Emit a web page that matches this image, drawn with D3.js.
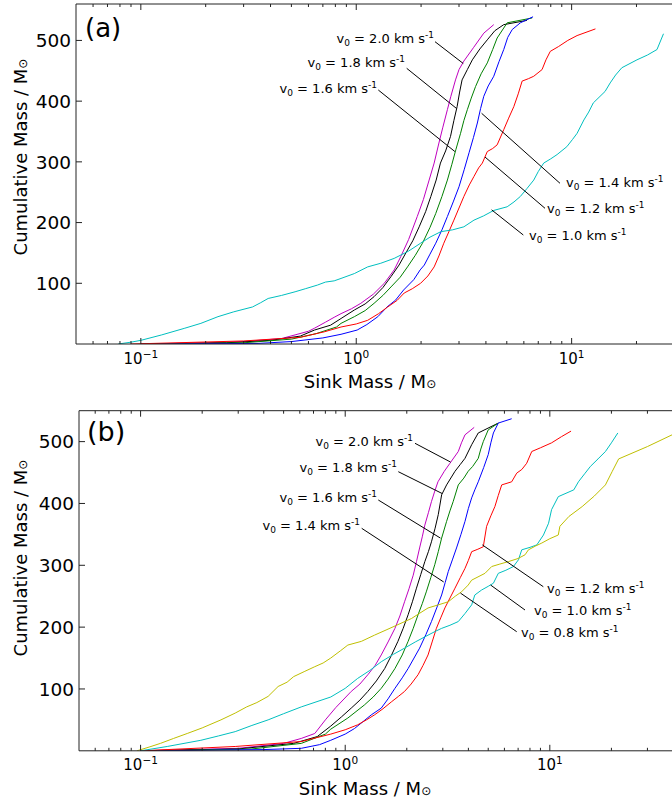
<!DOCTYPE html>
<html><head><meta charset="utf-8">
<script src="https://cdn.jsdelivr.net/npm/d3@7"></script>
<style>body{margin:0;background:#fff}svg{display:block}text{font-family:"DejaVu Sans",sans-serif;fill:#000}</style>
</head><body>
<svg id="c" width="672" height="803"></svg>
<script>
// ---------------- data ----------------
const xMajorTicks = [0.1, 1, 10];
const xTickExponents = ["\u22121", "0", "1"];
const yTicks = [100, 200, 300, 400, 500];
const yTickLabels = ["100", "200", "300", "400", "500"];
const velocityLabels = ["2.0", "1.8", "1.6", "1.4", "1.2", "1.0", "0.8"];
const velocityColors = ["#bf00bf", "#000000", "#008000", "#0000ff", "#ff0000", "#00bfbf", "#bfbf00"];

// panel (a) : [sink mass, cumulative mass]
const a_v20 = [[0.1,0],[0.2,2],[0.3,4],[0.45,9],[0.52,15],[0.6,21],[0.64,26],[0.72,36],[0.79,44],[0.85,50],[0.95,58],[1.05,67],[1.2,82],[1.35,100],[1.5,122],[1.61,144],[1.75,172],[1.92,210],[2.05,238],[2.18,270],[2.3,298],[2.42,331],[2.52,356],[2.65,386],[2.75,408],[2.89,435],[3.0,452],[3.16,466],[3.5,488],[3.91,512],[4.35,526]];
const a_v18 = [[0.1,0],[0.25,2],[0.4,6],[0.55,13],[0.64,23],[0.76,31],[0.85,42],[0.98,56],[1.1,66],[1.21,78],[1.33,93],[1.45,111],[1.58,130],[1.70,150],[1.83,170],[1.96,193],[2.1,218],[2.22,243],[2.35,270],[2.46,298],[2.6,318],[2.74,342],[2.84,368],[2.94,391],[3.02,415],[3.1,435],[3.28,452],[3.46,468],[3.75,486],[4.06,501],[4.4,516],[4.84,526],[6.2,533]];
const a_v16 = [[0.12,0],[0.3,2],[0.5,8],[0.65,17],[0.81,28],[0.85,34],[0.98,45],[1.1,55],[1.21,67],[1.33,80],[1.45,94],[1.6,110],[1.73,127],[1.88,146],[2.03,166],[2.2,192],[2.34,215],[2.5,243],[2.65,270],[2.78,296],[2.9,320],[3.05,347],[3.16,368],[3.28,386],[3.42,405],[3.58,424],[3.8,445],[4.06,463],[4.3,485],[4.51,504],[5.02,529],[6.56,537]];
const a_v14 = [[0.12,0],[0.35,1],[0.5,4],[0.7,10],[0.85,16],[1.01,23],[1.12,32],[1.26,45],[1.39,61],[1.52,72],[1.66,89],[1.85,106],[1.98,122],[2.07,130],[2.2,148],[2.34,166],[2.5,188],[2.65,210],[2.82,234],[3.0,259],[3.17,287],[3.34,315],[3.5,340],[3.65,364],[3.78,388],[3.91,408],[4.1,425],[4.35,441],[4.6,465],[4.84,485],[5.05,505],[5.3,518],[5.78,529],[6.62,539]];
const a_v12 = [[0.09,0],[0.3,5],[0.55,11],[0.71,20],[0.85,28],[1.0,33],[1.13,39],[1.27,50],[1.40,61],[1.55,72],[1.67,84],[1.82,91],[1.99,100],[2.15,112],[2.3,127],[2.42,145],[2.55,166],[2.7,186],[2.84,204],[3.0,224],[3.16,243],[3.35,262],[3.52,276],[3.7,290],[3.85,298],[4.06,317],[4.3,322],[4.51,328],[4.84,353],[5.1,372],[5.39,391],[5.65,412],[5.89,433],[6.3,437],[6.67,441],[7.29,452],[7.6,468],[7.96,482],[8.7,490],[9.6,500],[10.6,508],[12.9,519]];
const a_v10 = [[0.0785,0],[0.09,3],[0.10,6],[0.125,15],[0.16,26],[0.19,34],[0.228,45],[0.27,53],[0.33,61],[0.36,68],[0.39,75],[0.45,80],[0.52,86],[0.58,91],[0.66,97],[0.72,102],[0.79,104],[0.85,108],[0.98,116],[1.13,127],[1.3,133],[1.5,141],[1.75,153],[1.99,166],[2.2,176],[2.47,185],[2.8,188],[3.16,193],[3.52,204],[3.9,211],[4.35,220],[5.02,226],[5.4,234],[5.78,243],[6.2,256],[6.67,270],[7.0,284],[7.42,298],[8.0,305],[8.56,312],[9.5,325],[10.1,337],[10.6,347],[11.4,369],[12.0,382],[12.6,397],[14.3,416],[15.1,430],[16.0,443],[17.1,455],[20.1,468],[22.5,476],[24.9,485],[26.7,511]];

// panel (b)
const b_v20 = [[0.1,0],[0.3,4],[0.5,12],[0.61,20],[0.71,28],[0.8,50],[0.9,70],[1.07,96],[1.18,108],[1.29,123],[1.4,138],[1.5,155],[1.62,176],[1.75,198],[1.85,218],[1.95,241],[2.05,262],[2.15,284],[2.23,306],[2.31,328],[2.38,346],[2.45,365],[2.55,385],[2.64,403],[2.74,420],[2.84,435],[3.05,452],[3.25,465],[3.57,484],[3.7,498],[3.85,511],[4.27,523]];
const b_v18 = [[0.1,0],[0.3,3],[0.56,12],[0.73,23],[0.85,40],[0.96,55],[1.07,69],[1.18,82],[1.29,96],[1.42,113],[1.56,133],[1.68,154],[1.81,177],[1.92,198],[2.03,220],[2.13,241],[2.23,263],[2.34,285],[2.45,306],[2.55,322],[2.64,338],[2.75,360],[2.85,382],[2.96,414],[3.13,430],[3.44,452],[3.65,463],[3.85,473],[4.15,495],[4.47,514],[5.6,530]];
const b_v16 = [[0.12,0],[0.35,3],[0.61,12],[0.8,27],[0.85,35],[1.03,53],[1.24,74],[1.37,87],[1.5,101],[1.62,116],[1.75,133],[1.9,155],[2.03,177],[2.15,198],[2.27,220],[2.38,238],[2.49,257],[2.62,280],[2.74,301],[2.85,322],[2.96,344],[3.13,371],[3.25,388],[3.37,403],[3.57,430],[3.8,441],[3.99,452],[4.2,460],[4.47,473],[4.6,488],[4.73,500],[5.0,519],[5.6,530]];
const b_v14 = [[0.12,0],[0.4,2],[0.61,4],[0.75,10],[0.85,17],[1.0,27],[1.11,36],[1.22,47],[1.34,58],[1.5,69],[1.62,84],[1.75,101],[1.9,118],[2.03,133],[2.17,150],[2.31,166],[2.48,188],[2.64,209],[2.8,231],[2.96,252],[3.08,272],[3.19,290],[3.35,310],[3.5,328],[3.68,350],[3.85,371],[4.0,392],[4.15,409],[4.3,422],[4.47,435],[4.75,458],[5.0,479],[5.15,498],[5.3,514],[5.6,530],[6.51,537]];
const b_v12 = [[0.1,0],[0.29,7],[0.61,15],[0.85,27],[1.0,34],[1.15,42],[1.27,50],[1.39,58],[1.53,68],[1.68,79],[1.82,88],[1.95,96],[2.1,108],[2.27,123],[2.4,138],[2.54,155],[2.66,176],[2.79,198],[2.93,215],[3.07,231],[3.25,247],[3.44,263],[3.65,280],[3.85,295],[4.0,308],[4.15,322],[4.45,326],[4.73,330],[4.91,363],[5.15,380],[5.39,395],[5.6,413],[5.82,430],[6.51,435],[6.89,449],[7.3,455],[7.71,465],[8.16,484],[9.0,490],[10.2,498],[11.4,508],[12.7,517]];
const b_v10 = [[0.1,0],[0.135,7],[0.197,17],[0.24,24],[0.29,31],[0.35,41],[0.42,50],[0.5,60],[0.61,71],[0.72,79],[0.85,87],[1.0,101],[1.15,117],[1.32,130],[1.5,144],[1.72,156],[1.95,166],[2.2,176],[2.54,187],[2.75,193],[2.96,198],[3.25,203],[3.57,209],[3.85,222],[4.15,236],[4.3,252],[4.64,260],[5.0,266],[5.3,271],[5.6,287],[6.1,292],[6.64,298],[7.03,309],[7.29,325],[8.0,329],[8.64,333],[9.31,349],[9.86,368],[10.2,390],[11.0,411],[13.1,422],[13.8,435],[14.8,448],[15.8,460],[17.2,472],[18.7,484],[20.0,498],[21.5,514]];
const b_v08 = [[0.096,0],[0.11,6],[0.125,12],[0.145,20],[0.169,28],[0.2,37],[0.247,50],[0.29,61],[0.33,71],[0.37,78],[0.42,88],[0.47,104],[0.52,111],[0.56,120],[0.63,128],[0.71,136],[0.78,142],[0.85,150],[0.95,162],[1.03,171],[1.2,177],[1.39,187],[1.6,196],[1.81,204],[2.11,214],[2.3,222],[2.54,231],[2.85,236],[3.19,241],[3.45,250],[3.7,257],[3.99,268],[4.15,276],[4.82,287],[5.2,298],[5.7,302],[6.28,306],[7.0,311],[7.57,317],[7.86,325],[8.5,331],[9.14,336],[10.0,343],[11.0,349],[11.2,363],[12.4,379],[14.4,395],[16.5,412],[18.7,430],[20.2,452],[21.7,472],[30.0,492],[39.6,511]];

// ---------------- layout ----------------
const svg = d3.select("#c");
const FONT = "DejaVu Sans";

const panels = [
  { id:"a", left:76, right:674.4, top:4, bottom:344, xDomain:[0.05,30], yDomain:[0,560],
    series:[a_v20,a_v18,a_v16,a_v14,a_v12,a_v10], colors:velocityColors.slice(0,6),
    tag:"(a)", tagX:85, tagY:37, tagSize:26,
    yLabelPos:[27,157], xLabelPos:[370,388],
    notes:[
      {v:0, target:[3.14,462], start:[435,41.7], text:[434,43], anchor:"end"},
      {v:1, target:[2.92,388], start:[406.7,68.3], text:[405,67], anchor:"end"},
      {v:2, target:[2.87,317], start:[378.3,90], text:[377,93], anchor:"end"},
      {v:3, target:[3.82,380], start:[560,183.3], text:[566,187], anchor:"start"},
      {v:4, target:[3.96,308], start:[545,208.3], text:[547,213], anchor:"start"},
      {v:5, target:[4.25,221], start:[523.3,235], text:[529,240], anchor:"start"}
    ]},
  { id:"b", left:79, right:673, top:410.7, bottom:750.8, xDomain:[0.05,40], yDomain:[0,550],
    series:[b_v20,b_v18,b_v16,b_v14,b_v12,b_v10,b_v08], colors:velocityColors,
    tag:"(b)", tagX:87, tagY:441, tagSize:27,
    yLabelPos:[27,558], xLabelPos:[365,795],
    notes:[
      {v:0, target:[3.27,467], start:[415,443.3], text:[413,446], anchor:"end"},
      {v:1, target:[2.98,416], start:[398.3,471.7], text:[397,472], anchor:"end"},
      {v:2, target:[2.92,344], start:[378.3,500], text:[377,502], anchor:"end"},
      {v:3, target:[3.03,273], start:[361.7,528.3], text:[360,530], anchor:"end"},
      {v:4, target:[4.68,333], start:[543.3,586.7], text:[547,593], anchor:"start"},
      {v:5, target:[5.14,268], start:[525,610], text:[534,615], anchor:"start"},
      {v:6, target:[3.66,255], start:[516.7,631.7], text:[521,637], anchor:"start"}
    ]}
];

const clipW = 672;
panels.forEach(p => {
  const x = d3.scaleLog().domain(p.xDomain).range([p.left, p.right]);
  const y = d3.scaleLinear().domain(p.yDomain).range([p.bottom, p.top]);
  const g = svg.append("g");

  // clip
  const cid = "clip-" + p.id;
  svg.append("clipPath").attr("id", cid).append("rect")
    .attr("x", p.left).attr("y", p.top).attr("width", p.right - p.left).attr("height", p.bottom - p.top);

  // series
  const line = d3.line().x(d => x(d[0])).y(d => y(d[1]));
  const lg = g.append("g").attr("clip-path", `url(#${cid})`);
  p.series.forEach((s, i) => {
    lg.append("path").attr("d", line(s)).attr("fill", "none")
      .attr("stroke", p.colors[i]).attr("stroke-width", 1).attr("stroke-linejoin", "round");
  });

  // spines
  const ax = g.append("g").attr("stroke", "#222").attr("stroke-width", 1).attr("fill", "none");
  ax.append("line").attr("x1", p.left).attr("x2", p.right).attr("y1", p.bottom).attr("y2", p.bottom);
  ax.append("line").attr("x1", p.left).attr("x2", p.right).attr("y1", p.top).attr("y2", p.top);
  ax.append("line").attr("x1", p.left).attr("x2", p.left).attr("y1", p.top).attr("y2", p.bottom);
  ax.append("line").attr("x1", p.right).attr("x2", p.right).attr("y1", p.top).attr("y2", p.bottom);

  // x ticks (major + minor, inward, top & bottom)
  const lo = Math.floor(Math.log10(p.xDomain[0])), hi = Math.ceil(Math.log10(p.xDomain[1]));
  const minors = [];
  for (let e = lo; e <= hi; e++) for (let k = 2; k <= 9; k++) {
    const v = k * Math.pow(10, e);
    if (v > p.xDomain[0] && v < p.xDomain[1]) minors.push(v);
  }
  minors.forEach(v => {
    ax.append("line").attr("x1", x(v)).attr("x2", x(v)).attr("y1", p.bottom).attr("y2", p.bottom - 3);
    ax.append("line").attr("x1", x(v)).attr("x2", x(v)).attr("y1", p.top).attr("y2", p.top + 3);
  });
  xMajorTicks.forEach((v, i) => {
    ax.append("line").attr("x1", x(v)).attr("x2", x(v)).attr("y1", p.bottom).attr("y2", p.bottom - 6);
    ax.append("line").attr("x1", x(v)).attr("x2", x(v)).attr("y1", p.top).attr("y2", p.top + 6);
    const t = g.append("text").attr("x", x(v)).attr("y", p.bottom + 19.5)
      .attr("text-anchor", "middle").attr("font-size", 15).attr("fill", "#111");
    t.append("tspan").text("10");
    t.append("tspan").attr("dy", -6).attr("font-size", 10.5).text(xTickExponents[i]);
  });

  // y ticks
  yTicks.forEach((v, i) => {
    ax.append("line").attr("x1", p.left).attr("x2", p.left + 6).attr("y1", y(v)).attr("y2", y(v));
    g.append("text").attr("x", p.left - 5).attr("y", y(v)).attr("dy", "0.36em")
      .attr("text-anchor", "end").attr("font-size", 18.5).text(yTickLabels[i]);
  });

  // axis labels
  const yl = g.append("text").attr("transform", `translate(${p.yLabelPos[0]},${p.yLabelPos[1]}) rotate(-90)`)
    .attr("text-anchor", "middle").attr("font-size", 18);
  yl.append("tspan").text("Cumulative Mass / M");
  yl.append("tspan").attr("font-size", 12).text("\u2299");
  const xl = g.append("text").attr("x", p.xLabelPos[0]).attr("y", p.xLabelPos[1])
    .attr("text-anchor", "middle").attr("font-size", 18);
  xl.append("tspan").text("Sink Mass / M");
  xl.append("tspan").attr("font-size", 12).text("\u2299");

  // panel tag
  g.append("text").attr("x", p.tagX).attr("y", p.tagY).attr("font-size", p.tagSize).text(p.tag);

  // annotations
  p.notes.forEach(n => {
    g.append("line").attr("x1", n.start[0]).attr("y1", n.start[1])
      .attr("x2", x(n.target[0])).attr("y2", y(n.target[1]))
      .attr("stroke", "#000").attr("stroke-width", 1);
    const t = g.append("text").attr("x", n.text[0]).attr("y", n.text[1])
      .attr("text-anchor", n.anchor).attr("font-size", 13);
    t.append("tspan").text("v");
    t.append("tspan").attr("dy", 3).attr("font-size", 9).text("0");
    t.append("tspan").attr("dy", -3).text(" = " + velocityLabels[n.v] + " km s");
    t.append("tspan").attr("dy", -5).attr("font-size", 9).text("-1");
  });
});
</script>
</body></html>
